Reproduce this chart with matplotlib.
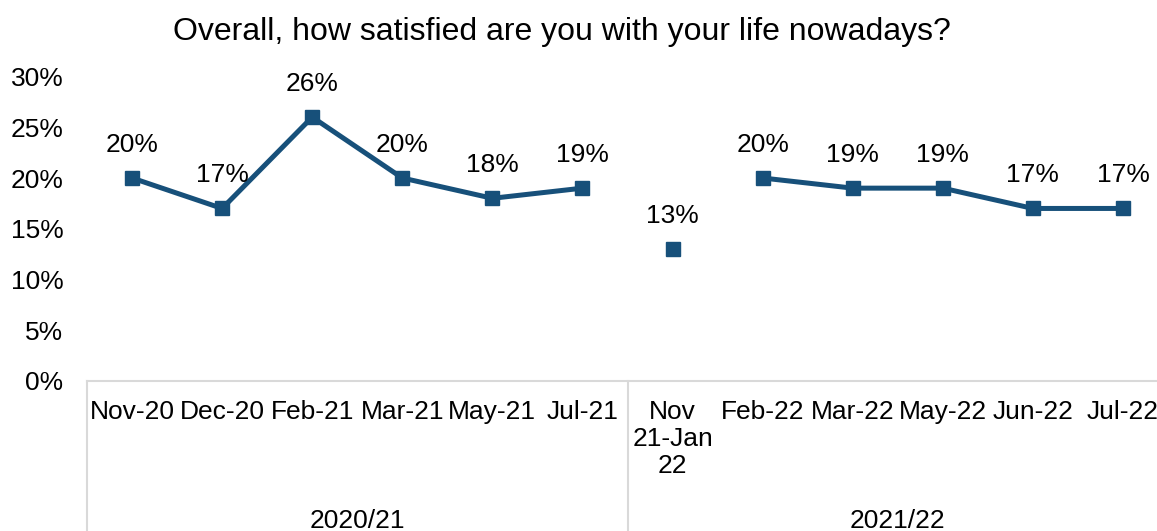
import numpy as np
import matplotlib.pyplot as plt
import matplotlib.transforms as mtransforms

# datos
meses = ['Nov-20', 'Dec-20', 'Feb-21', 'Mar-21', 'May-21', 'Jul-21',
         'Nov\n21-Jan\n22', 'Feb-22', 'Mar-22', 'May-22', 'Jun-22', 'Jul-22']
valores = [20, 17, 26, 20, 18, 19, 13, 20, 19, 19, 17, 17]
periodos = ['2020/21', '2021/22']
inicio_periodo = [0, 6]
# tramos conectados por línea (índices inicio, fin)
tramos = [(0, 6), (6, 7), (7, 12)]

plt.rcParams['font.family'] = ['Liberation Sans', 'DejaVu Sans']
color = '#17507a'
gris = '#d9d9d9'

fig = plt.figure(figsize=(11.57, 5.31), dpi=100)
ax = fig.add_axes([87 / 1157, 1 - 381 / 531, 1081 / 1157, 304.5 / 531])

x = np.arange(len(meses))
v = np.array(valores, dtype=float)
for a, b in tramos:
    ax.plot(x[a:b], v[a:b], color=color, linewidth=3.6, marker='s',
            markersize=10, clip_on=False)

for xi, yi in zip(x, v):
    ax.annotate(f'{yi:.0f}%', (xi, yi), xytext=(0, 24), textcoords='offset points',
                ha='center', va='center', fontsize=19)

ax.set_xlim(-0.5, len(meses) - 0.5)
ax.set_ylim(0, 30)
ax.set_yticks(range(0, 31, 5))
ax.set_yticklabels([f'{t}%' for t in range(0, 31, 5)], fontsize=19)
ax.set_xticks(x)
ax.set_xticklabels(meses, fontsize=19, linespacing=1.14)
ax.tick_params(axis='both', length=0)
ax.tick_params(axis='x', pad=14)
ax.tick_params(axis='y', pad=17)

for s in ['top', 'right', 'left']:
    ax.spines[s].set_visible(False)
ax.spines['bottom'].set_color(gris)
ax.spines['bottom'].set_linewidth(1.5)

# separadores y etiquetas de periodo
trans = mtransforms.blended_transform_factory(ax.transData, ax.transAxes)
limites = inicio_periodo + [len(meses)]
for i, nombre in enumerate(periodos):
    izq = limites[i] - 0.5
    der = limites[i + 1] - 0.5
    ax.plot([izq, izq], [0, -0.6], transform=trans, color=gris, linewidth=1.5,
            clip_on=False)
    ax.text((izq + der) / 2, -0.46, nombre, transform=trans, ha='center',
            va='center', fontsize=19)

fig.text(562 / 1157, 1 - 32 / 531, 'Overall, how satisfied are you with your life nowadays?',
         ha='center', va='center', fontsize=23)

fig.savefig('out.png', dpi=100)
